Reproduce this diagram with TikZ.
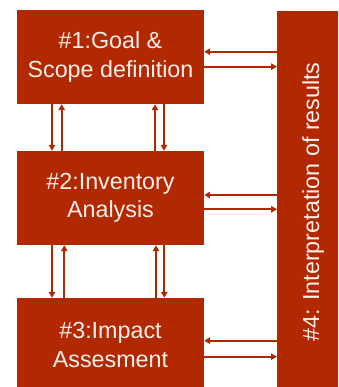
\documentclass[tikz,border=0pt]{standalone}
\usepackage{fontspec}
\setmainfont{Liberation Sans}
\usetikzlibrary{arrows.meta}
\definecolor{brick}{RGB}{178,40,0}
\definecolor{paletext}{RGB}{252,240,236}
\tikzset{
  phase/.style={draw=none, fill=brick, rectangle, inner sep=0pt,
    minimum width=187pt, minimum height=94pt, text=paletext, align=center,
    font=\fontsize{23.3pt}{28.5pt}\selectfont},
  flow/.style={draw=brick, line width=1.9pt,
    -{Triangle[length=6pt,width=6.5pt]}}
}
\begin{document}
\begin{tikzpicture}[x=1pt,y=-1pt]
  \clip (0,0) rectangle (338,387);
  \fill[white] (0,0) rectangle (338,387);

  % the three phases on the left
  \node[phase] (goal) at (110.5,57) {\#1:Goal \&\\Scope definition};
  \node[phase] (inv)  at (110.5,198) {\#2:Inventory\\Analysis};
  \node[phase] (imp)  at (110.5,345) {\#3:Impact\\Assesment};

  % the interpretation column on the right
  \node[fill=brick, rectangle, inner sep=0pt, minimum width=64pt,
        minimum height=392pt, anchor=north west] (interp) at (277,10.7) {};
  \node[rotate=90, text=paletext, inner sep=0pt,
        font=\fontsize{23.3pt}{28.5pt}\selectfont] (interplabel)
        at (313,202) {\#4: Interpretation of results};

  % exchanges between each phase and the interpretation
  \draw[flow] (interp.west |- 0,51.7) -- (goal.east |- 0,51.7);
  \draw[flow] (goal.east |- 0,66.7) -- (interp.west |- 0,66.7);
  \draw[flow] (interp.west |- 0,195) -- (inv.east |- 0,195);
  \draw[flow] (inv.east |- 0,209.3) -- (interp.west |- 0,209.3);
  \draw[flow] (interp.west |- 0,340.7) -- (imp.east |- 0,340.7);
  \draw[flow] (imp.east |- 0,356.7) -- (interp.west |- 0,356.7);

  % exchanges between goal and inventory
  \draw[flow] (goal.south -| 52,0) -- (inv.north -| 52,0);
  \draw[flow] (inv.north -| 61.7,0) -- (goal.south -| 61.7,0);
  \draw[flow] (inv.north -| 155,0) -- (goal.south -| 155,0);
  \draw[flow] (goal.south -| 164,0) -- (inv.north -| 164,0);

  % exchanges between inventory and impact
  \draw[flow] (inv.south -| 52,0) -- (imp.north -| 52,0);
  \draw[flow] (imp.north -| 64.3,0) -- (inv.south -| 64.3,0);
  \draw[flow] (imp.north -| 156,0) -- (inv.south -| 156,0);
  \draw[flow] (inv.south -| 164.3,0) -- (imp.north -| 164.3,0);
\end{tikzpicture}
\end{document}
